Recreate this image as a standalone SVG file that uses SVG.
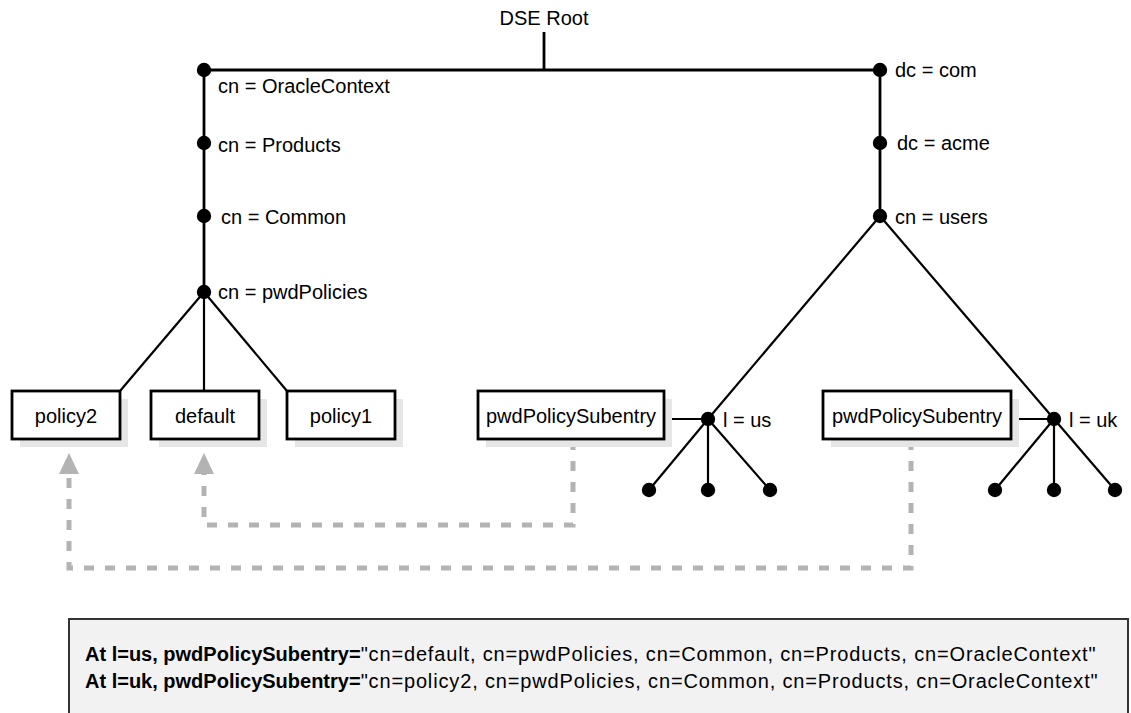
<svg xmlns="http://www.w3.org/2000/svg" width="1131" height="713" viewBox="0 0 1131 713">
<style>
text{font-family:"Liberation Sans",Arial,Helvetica,sans-serif;font-size:20px;fill:#000}
.mid{text-anchor:middle}
.box{fill:#fff;stroke:#000;stroke-width:2.8}
.shadow{fill:#e6e6e6}
.tree{stroke:#000;stroke-width:2.8;fill:none}
.thin{stroke:#000;stroke-width:2.2;fill:none}
.dash{stroke:#b3b3b3;stroke-width:5;fill:none;stroke-dasharray:10 11}
.dot{fill:#000}
.arrow{fill:#b3b3b3}
.b{font-weight:bold}
.n{letter-spacing:0.85px}
</style>
<g id="connectors">
<line class="tree" x1="544" y1="32" x2="544" y2="70"/>
<line class="tree" x1="204" y1="70" x2="880" y2="70"/>
<line class="tree" x1="204" y1="70" x2="204" y2="292"/>
<line class="tree" x1="880" y1="70" x2="880" y2="216"/>
<line class="thin" x1="204" y1="292" x2="120" y2="391"/>
<line class="thin" x1="204" y1="292" x2="204" y2="391"/>
<line class="thin" x1="204" y1="292" x2="287" y2="391"/>
<line class="thin" x1="880" y1="216" x2="708" y2="419"/>
<line class="thin" x1="880" y1="216" x2="1054" y2="419"/>
<line class="thin" x1="664" y1="419" x2="708" y2="419"/>
<line class="thin" x1="1011" y1="419" x2="1054" y2="419"/>
<line class="thin" x1="708" y1="419" x2="649" y2="490"/>
<line class="thin" x1="708" y1="419" x2="708" y2="490"/>
<line class="thin" x1="708" y1="419" x2="770" y2="490"/>
<line class="thin" x1="1054" y1="419" x2="995" y2="490"/>
<line class="thin" x1="1054" y1="419" x2="1054" y2="490"/>
<line class="thin" x1="1054" y1="419" x2="1115" y2="490"/>
<path class="dash" d="M573,440 V525 H204 V474"/>
<path class="dash" d="M911,440 V568 H69 V474"/>
<polygon class="arrow" points="204,453 214,474 194,474"/>
<polygon class="arrow" points="69,453 79,474 59,474"/>
</g>
<g id="dse-root"><text class="mid" x="544" y="25">DSE Root</text></g>
<g id="oraclecontext"><circle class="dot" cx="204" cy="70" r="7.2"/><text x="218" y="93">cn = OracleContext</text></g>
<g id="products"><circle class="dot" cx="204" cy="143" r="7.2"/><text x="218" y="152">cn = Products</text></g>
<g id="common"><circle class="dot" cx="204" cy="216" r="7.2"/><text x="221" y="224">cn = Common</text></g>
<g id="pwdpolicies"><circle class="dot" cx="204" cy="292" r="7.2"/><text x="218" y="299">cn = pwdPolicies</text></g>
<g id="com"><circle class="dot" cx="880" cy="70" r="7.2"/><text x="895" y="77">dc = com</text></g>
<g id="acme"><circle class="dot" cx="880" cy="143" r="7.2"/><text x="897" y="150">dc = acme</text></g>
<g id="users"><circle class="dot" cx="880" cy="216" r="7.2"/><text x="895" y="224">cn = users</text></g>
<g id="policy2"><rect class="shadow" x="20" y="399" width="108" height="48"/><rect class="box" x="12" y="391" width="108" height="48"/><text class="mid" x="66" y="423">policy2</text></g>
<g id="default"><rect class="shadow" x="159" y="399" width="108" height="48"/><rect class="box" x="151" y="391" width="108" height="48"/><text class="mid" x="205" y="423">default</text></g>
<g id="policy1"><rect class="shadow" x="295" y="399" width="108" height="48"/><rect class="box" x="287" y="391" width="108" height="48"/><text class="mid" x="341" y="423">policy1</text></g>
<g id="subentry-us"><rect class="shadow" x="486" y="399" width="186" height="48"/><rect class="box" x="478" y="391" width="186" height="48"/><text class="mid" x="571" y="423">pwdPolicySubentry</text></g>
<g id="subentry-uk"><rect class="shadow" x="831" y="399" width="188" height="48"/><rect class="box" x="823" y="391" width="188" height="48"/><text class="mid" x="917" y="423">pwdPolicySubentry</text></g>
<g id="l-us"><circle class="dot" cx="708" cy="419" r="7.2"/><text x="723" y="427">l = us</text></g>
<g id="l-uk"><circle class="dot" cx="1054" cy="419" r="7.2"/><text x="1069" y="427">l = uk</text></g>
<g id="us-leaves"><circle class="dot" cx="649" cy="490" r="7.2"/><circle class="dot" cx="708" cy="490" r="7.2"/><circle class="dot" cx="770" cy="490" r="7.2"/></g>
<g id="uk-leaves"><circle class="dot" cx="995" cy="490" r="7.2"/><circle class="dot" cx="1054" cy="490" r="7.2"/><circle class="dot" cx="1115" cy="490" r="7.2"/></g>
<g id="note">
<rect x="69" y="619" width="1059" height="120" fill="#f2f2f2" stroke="#333" stroke-width="2"/>
<text x="85" y="661"><tspan class="b">At l=us, pwdPolicySubentry=</tspan><tspan class="n">"cn=default, cn=pwdPolicies, cn=Common, cn=Products, cn=OracleContext"</tspan></text>
<text x="85" y="688"><tspan class="b">At l=uk, pwdPolicySubentry=</tspan><tspan class="n">"cn=policy2, cn=pwdPolicies, cn=Common, cn=Products, cn=OracleContext"</tspan></text>
</g>
</svg>
